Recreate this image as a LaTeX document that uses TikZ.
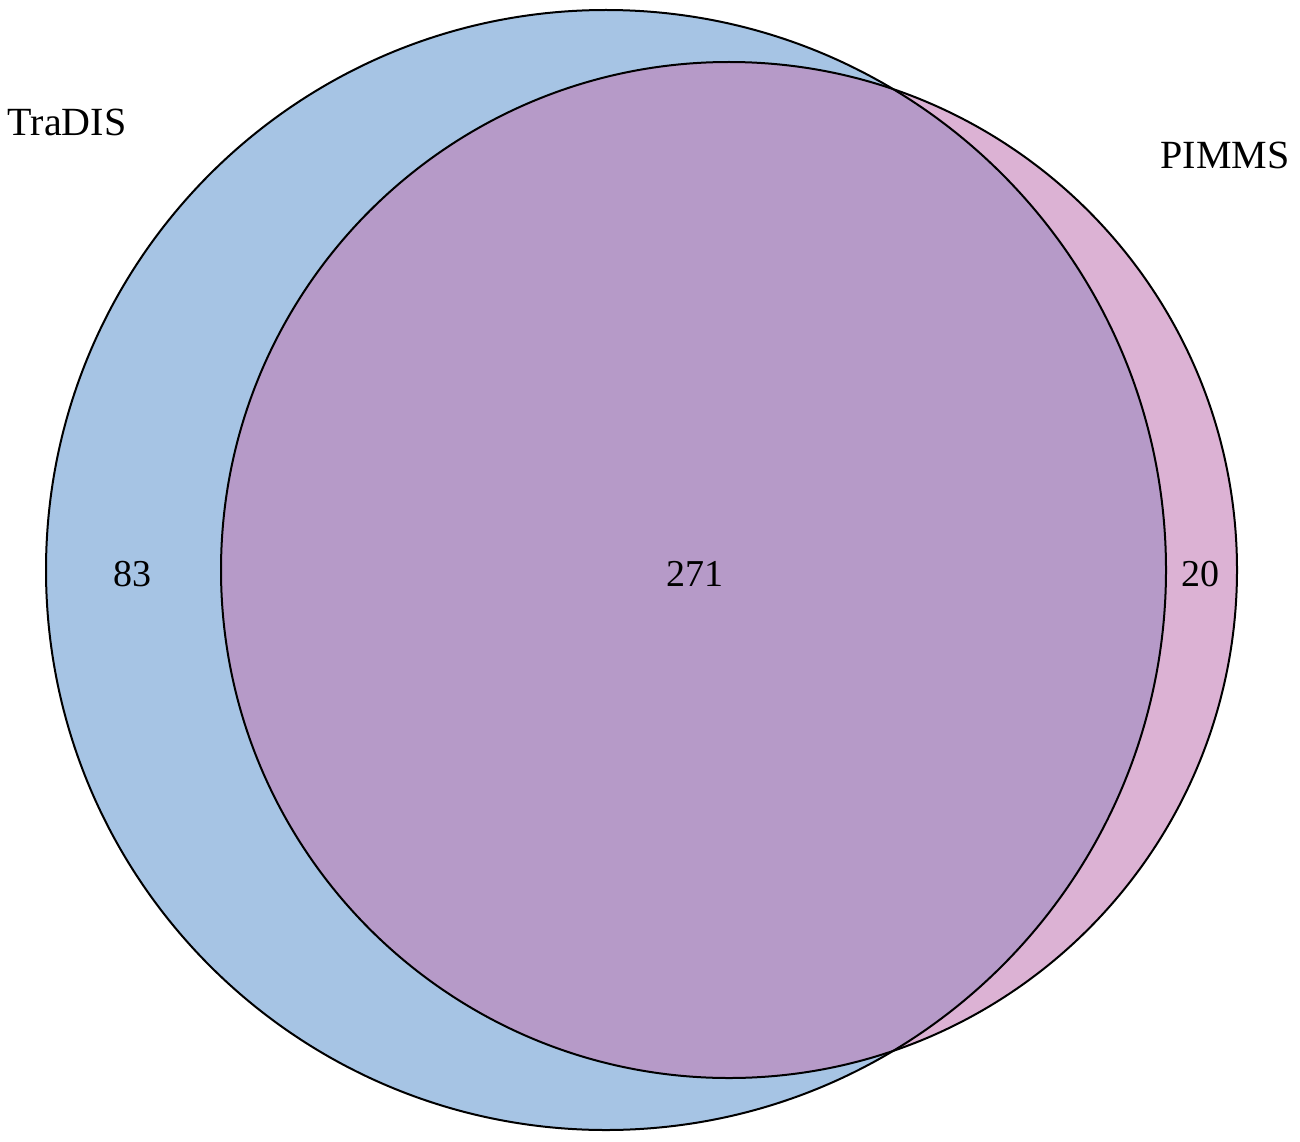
\documentclass[tikz,border=0pt]{standalone}
\usepackage{fontspec}
\setmainfont{Liberation Serif}
\definecolor{tradisblue}{RGB}{166,196,228}
\definecolor{pimmspink}{RGB}{220,178,212}
\definecolor{overlap}{RGB}{182,154,200}
\tikzset{
  setoutline/.style={draw=black, line width=2pt},
  setlabel/.style={font=\fontsize{40}{48}\selectfont, inner sep=0pt},
  countlabel/.style={font=\fontsize{38}{46}\selectfont, inner sep=0pt}
}
\begin{document}
\begin{tikzpicture}[x=1pt,y=-1pt]
\useasboundingbox (0,0) rectangle (1300,1142);
\fill[white] (0,0) rectangle (1300,1142);
% regions
\fill[tradisblue] (606,570) circle [radius=560pt];
\fill[pimmspink] (729,570) circle [radius=508pt];
\begin{scope}
  \clip (729,570) circle [radius=508pt];
  \fill[overlap] (606,570) circle [radius=560pt];
\end{scope}
% outlines
\draw[setoutline] (606,570) circle [radius=560pt];
\draw[setoutline] (729,570) circle [radius=508pt];
% labels
\node[setlabel] (tradis) at (67,122) {TraDIS};
\node[setlabel] (pimms) at (1225,155) {PIMMS};
\node[countlabel] (a) at (132,574) {83};
\node[countlabel] (ab) at (695,574) {271};
\node[countlabel] (b) at (1200,574) {20};
\end{tikzpicture}
\end{document}
